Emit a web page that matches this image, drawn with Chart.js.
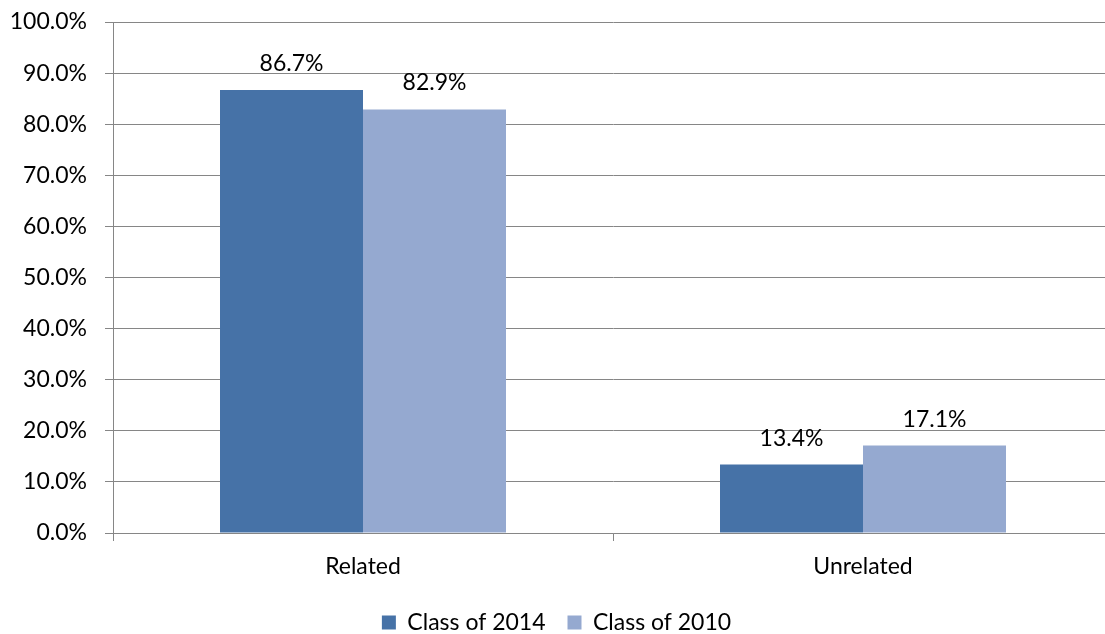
<!DOCTYPE html>
<html>
<head>
<meta charset="utf-8">
<script src="https://cdn.jsdelivr.net/npm/chart.js@4/dist/chart.umd.min.js"></script>
<style>
  html, body { margin: 0; padding: 0; background: #fff; overflow: hidden; }
  #wrap { width: 1113px; height: 644px; }
</style>
</head>
<body>
<div id="wrap"><canvas id="chart"></canvas></div>
<script>
// chart data
const categories = ["Related", "Unrelated"];
const seriesNames = ["Class of 2014", "Class of 2010"];
const class2014 = [86.7, 13.4];
const class2010 = [82.9, 17.1];
const seriesColors = ["#4672A7", "#95A9D0"];

const FONT = "Lato, 'Open Sans', sans-serif";

// draws the value above each bar
const valueLabels = {
  id: "valueLabels",
  afterDatasetsDraw(chart) {
    const ctx = chart.ctx;
    ctx.save();
    ctx.font = "23px " + FONT;
    ctx.fillStyle = "#000";
    ctx.textAlign = "center";
    ctx.textBaseline = "alphabetic";
    chart.data.datasets.forEach((ds, i) => {
      chart.getDatasetMeta(i).data.forEach((bar, j) => {
        ctx.fillText(ds.data[j].toFixed(1) + "%", bar.x, bar.y - 19);
      });
    });
    ctx.restore();
  }
};

new Chart(document.getElementById("chart"), {
  type: "bar",
  data: {
    labels: categories,
    datasets: [
      { label: seriesNames[0], data: class2014, backgroundColor: seriesColors[0] },
      { label: seriesNames[1], data: class2010, backgroundColor: seriesColors[1] }
    ]
  },
  options: {
    responsive: true,
    maintainAspectRatio: false,
    animation: false,
    layout: { padding: { top: 22, left: 0, right: 0, bottom: 0 } },
    datasets: { bar: { categoryPercentage: 0.572, barPercentage: 1 } },
    plugins: {
      legend: {
        position: "bottom",
        labels: {
          font: { family: FONT, size: 23 },
          color: "#000",
          boxWidth: 14,
          boxHeight: 14,
          padding: 22
        }
      },
      tooltip: { enabled: false }
    },
    scales: {
      x: {
        grid: { drawOnChartArea: false, color: "#868686", tickLength: 8, offset: true },
        border: { color: "#868686" },
        ticks: { font: { family: FONT, size: 23 }, color: "#000", padding: 12 },
        afterFit(s) { s.height = 56; }
      },
      y: {
        min: 0,
        max: 100,
        grid: { color: "#868686", tickLength: 8 },
        border: { color: "#868686" },
        ticks: {
          stepSize: 10,
          font: { family: FONT, size: 23 },
          color: "#000",
          padding: 18,
          callback: v => v.toFixed(1) + "%"
        },
        afterFit(s) { s.width = 113; s.paddingTop = 0; s.paddingBottom = 0; }
      }
    }
  },
  plugins: [valueLabels]
});
</script>
</body>
</html>
